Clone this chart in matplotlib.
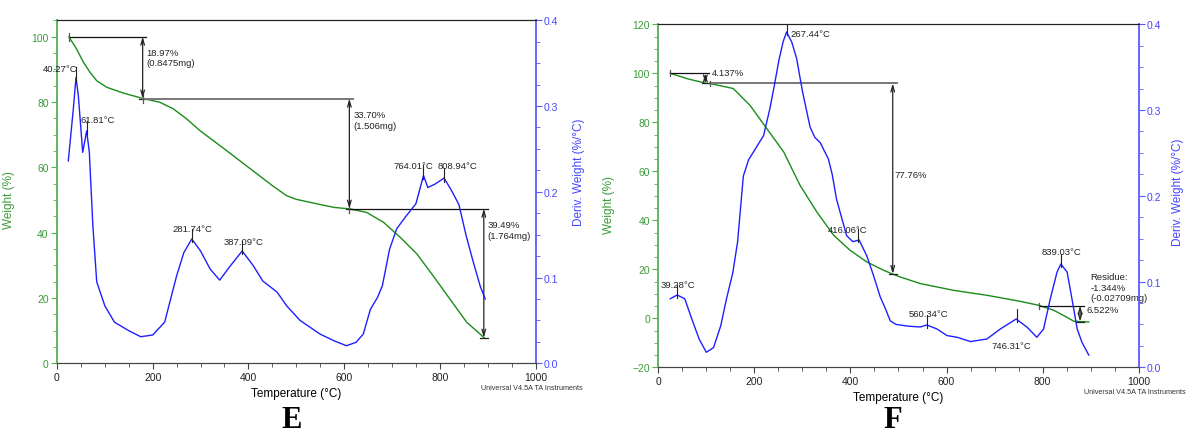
import matplotlib
matplotlib.use("Agg")
import matplotlib.pyplot as plt
from matplotlib.ticker import MultipleLocator

plt.rcParams['font.family'] = ['Liberation Sans', 'DejaVu Sans']

# ---------------- Panel E data ----------------
E_temp_w = [25, 41, 55, 69, 83, 104, 139, 179, 215, 243, 271, 299, 350, 400, 450, 480,
            500, 550, 580, 610, 647, 682, 717, 752, 786, 821, 856, 893]
E_weight = [99.9, 96.2, 92.2, 89.1, 86.5, 84.5, 82.7, 81.1, 79.9, 77.9, 74.8, 71.2, 65.6,
            60.0, 54.4, 51.3, 50.2, 48.6, 47.7, 47.3, 46.2, 43.2, 38.6, 33.5, 26.8, 19.7, 12.6, 7.8]
E_temp_d = [23.6, 34, 39.7, 44.6, 53.7, 62, 67.6, 69, 75, 83, 100, 120, 150, 175, 200, 225,
            250, 265, 281.7, 300, 320, 340, 360, 387, 410, 430, 460, 480, 508, 550, 580, 605,
            625, 640, 655, 670, 680, 695, 710, 730, 750, 766, 775, 790, 809, 825, 840, 855,
            870, 885, 895]
E_deriv = [0.236, 0.296, 0.3335, 0.312, 0.246, 0.271, 0.246, 0.229, 0.16, 0.095, 0.067, 0.048,
           0.038, 0.031, 0.033, 0.048, 0.102, 0.129, 0.145, 0.131, 0.110, 0.097, 0.112, 0.131,
           0.114, 0.096, 0.083, 0.067, 0.050, 0.034, 0.026, 0.0205, 0.0245, 0.034, 0.063, 0.077,
           0.0905, 0.133, 0.157, 0.172, 0.186, 0.219, 0.205, 0.209, 0.216, 0.201, 0.185, 0.149,
           0.118, 0.089, 0.075]
E_peak_T = [40.27, 61.81, 281.74, 387.09, 764.01, 808.94]
E_peak_D = [0.3335, 0.271, 0.145, 0.131, 0.219, 0.216]
E_peak_labels = ['40.27°C', '61.81°C', '281.74°C', '387.09°C', '764.01°C', '808.94°C']
E_steps = [(25, 179, 100.0, 81.03, '18.97%\n(0.8475mg)'),
           (179, 611, 81.03, 47.33, '33.70%\n(1.506mg)'),
           (611, 892, 47.33, 7.84, '39.49%\n(1.764mg)')]

# ---------------- Panel F data ----------------
F_temp_w = [25, 60, 100, 108, 156, 191, 226, 261, 295, 330, 365, 399, 434, 469, 486, 503,
            545, 615, 684, 754, 792, 823, 845, 865, 896]
F_weight = [100.0, 97.8, 95.9, 95.8, 93.8, 86.9, 77.4, 67.9, 54.3, 43.4, 33.9, 27.8, 23.0,
            19.6, 18.2, 16.9, 14.2, 11.4, 9.4, 6.9, 5.3, 3.3, 1.0, -1.2, -1.5]
F_temp_d = [25, 39.3, 55, 70, 85, 100, 115, 130, 142, 155, 165, 177, 188, 198, 210, 219, 232,
            242, 251, 260, 267, 278, 288, 300, 316, 326, 337, 354, 362, 371, 392, 405, 418,
            434, 448, 462, 473, 483, 495, 520, 545, 559, 580, 601, 622, 650, 684, 712, 745,
            768, 788, 802, 816, 830, 838, 851, 861, 872, 882, 896]
F_deriv = [0.080, 0.0843, 0.080, 0.056, 0.033, 0.0175, 0.023, 0.0485, 0.080, 0.110, 0.146,
           0.223, 0.242, 0.251, 0.262, 0.270, 0.301, 0.330, 0.358, 0.380, 0.391, 0.379, 0.360,
           0.322, 0.280, 0.268, 0.262, 0.243, 0.225, 0.196, 0.1535, 0.1465, 0.1485, 0.130,
           0.107, 0.082, 0.068, 0.054, 0.050, 0.048, 0.047, 0.0493, 0.0447, 0.037, 0.035,
           0.030, 0.033, 0.0447, 0.0563, 0.0466, 0.035, 0.0447, 0.080, 0.111, 0.1205, 0.111,
           0.080, 0.0447, 0.029, 0.0143]
F_peak_T = [39.28, 267.44, 416.06, 560.34, 746.31, 839.03]
F_peak_D = [0.0843, 0.391, 0.1496, 0.0493, 0.0563, 0.1205]
F_peak_labels = ['39.28°C', '267.44°C', '416.06°C', '560.34°C', '746.31°C', '839.03°C']
F_steps = [(25, 98, 100.0, 95.86, '4.137%'),
           (108, 488, 95.86, 18.10, '77.76%'),
           (792, 878, 5.18, -1.34, '6.522%')]
F_residue = 'Residue:\n-1.344%\n(-0.02709mg)'

GREEN = '#1a8c1a'
GREEN_T = '#3a9a3a'
BLUE = '#1f1fff'
BLUE_T = '#4545ff'
W, H = 1187, 435

fig = plt.figure(figsize=(W / 100, H / 100), dpi=100)


def make_axes(l, r, t, b, ylim, ymaj):
    ax = fig.add_axes([l / W, 1 - b / H, (r - l) / W, (b - t) / H])
    ax2 = ax.twinx()
    ax.set_xlim(0, 1000)
    ax.set_ylim(*ylim)
    ax2.set_ylim(0, 0.4)
    ax.xaxis.set_major_locator(MultipleLocator(200))
    ax.xaxis.set_minor_locator(MultipleLocator(50))
    ax.yaxis.set_major_locator(MultipleLocator(ymaj))
    ax.yaxis.set_minor_locator(MultipleLocator(5))
    ax2.yaxis.set_major_locator(MultipleLocator(0.1))
    ax2.yaxis.set_minor_locator(MultipleLocator(0.025))
    ax2.yaxis.set_major_formatter(matplotlib.ticker.FuncFormatter(lambda v, p: f'{v:.1f}'))
    for a in (ax, ax2):
        a.tick_params(which='both', direction='out', labelsize=7.5, pad=2)
        a.tick_params(which='major', length=4)
        a.tick_params(which='minor', length=3)
    ax.spines['left'].set_color('#55b055')
    ax.spines['left'].set_linewidth(1.3)
    ax2.spines['right'].set_color('#5a5aff')
    ax2.spines['right'].set_linewidth(1.3)
    ax2.spines['left'].set_visible(False)
    ax.spines['right'].set_visible(False)
    for a in (ax, ax2):
        a.spines['top'].set_color('#222222')
        a.spines['bottom'].set_color('#444444')
    ax.tick_params(axis='y', which='both', colors='#55b055', labelcolor=GREEN_T)
    ax2.tick_params(axis='y', which='both', colors='#5a5aff', labelcolor=BLUE_T)
    ax.tick_params(axis='x', which='both', colors='#444444', labelcolor='#222222')
    ax.set_xlabel('Temperature (°C)', fontsize=8.5, labelpad=4)
    ax.set_ylabel('Weight (%)', fontsize=8.5, color=GREEN_T)
    ax2.set_ylabel('Deriv. Weight (%/°C)', fontsize=8.5, color=BLUE_T)
    return ax, ax2


def draw_step(ax, x0, x1, y0, y1, gray):
    col = '#777777' if gray else '#111111'
    lw = 1.4 if gray else 0.9
    ax.plot([x0, x1 + 8], [y0, y0], color=col, lw=lw, zorder=3)
    ax.plot([x0, x0], [y0 - 1.2, y0 + 1.2], color='#555555', lw=0.9, zorder=3)
    ax.annotate('', xy=(x1, y1), xytext=(x1, y0),
                arrowprops=dict(arrowstyle='<->,head_length=0.45,head_width=0.13',
                                lw=0.9, color='#222222', shrinkA=0, shrinkB=0), zorder=4)
    ax.plot([x1 - 8, x1 + 8], [y1, y1], color='#222222', lw=0.9, zorder=3)


def peak_ticks(ax2, ts, ds):
    for t, d in zip(ts, ds):
        ax2.plot([t, t], [d - 0.004, d + 0.012], color='#222222', lw=0.8, zorder=5)


TXT = dict(fontsize=6.8, color='#222222')

# ---------------- Panel E ----------------
axE, axE2 = make_axes(57, 535.5, 21.3, 364.3, (0, 105), 20)
axE.plot(E_temp_w, E_weight, color=GREEN, lw=1.0, zorder=2)
axE2.plot(E_temp_d, E_deriv, color=BLUE, lw=1.0, zorder=2)
peak_ticks(axE2, E_peak_T, E_peak_D)
for i, (x0, x1, y0, y1, lab) in enumerate(E_steps):
    draw_step(axE, x0, x1, y0, y1, gray=(i == 1))
axE.text(187, 96.5, E_steps[0][4], va='top', ha='left', linespacing=1.2, **TXT)
axE.text(619, 77.5, E_steps[1][4], va='top', ha='left', linespacing=1.2, **TXT)
axE.text(900, 43.8, E_steps[2][4], va='top', ha='left', linespacing=1.2, **TXT)
E_lab_pos = [(6, 90.3), (84, 74.5), (283, 41.3), (389, 37.4), (744, 60.5), (838, 60.4)]
for (x, y), lab in zip(E_lab_pos, E_peak_labels):
    axE.text(x, y, lab, ha='center', va='center', zorder=6, **TXT)
axE.yaxis.set_label_coords(-0.088, 0.48)
axE2.yaxis.set_label_coords(1.078, 0.56)

# ---------------- Panel F ----------------
axF, axF2 = make_axes(658.3, 1138.7, 25.3, 368.3, (-20, 120), 20)
axF.plot(F_temp_w, F_weight, color=GREEN, lw=1.0, zorder=2)
axF2.plot(F_temp_d, F_deriv, color=BLUE, lw=1.0, zorder=2)
peak_ticks(axF2, F_peak_T, F_peak_D)
for i, (x0, x1, y0, y1, lab) in enumerate(F_steps):
    draw_step(axF, x0, x1, y0, y1, gray=(i == 1))
axF.text(112, 100.2, F_steps[0][4], va='center', ha='left', **TXT)
axF.text(492, 58.6, F_steps[1][4], va='center', ha='left', **TXT)
axF.text(891, 3.5, F_steps[2][4], va='center', ha='left', **TXT)
axF.text(900, 18.8, F_residue, va='top', ha='left', linespacing=1.2, **TXT)
F_lab_pos = [(41, 14.0), (317, 116.3), (394, 36.2), (562, 1.9), (735, -10.9), (840, 27.2)]
for (x, y), lab in zip(F_lab_pos, F_peak_labels):
    axF.text(x, y, lab, ha='center', va='center', zorder=6, **TXT)
axF.yaxis.set_label_coords(-0.09, 0.476)
axF2.yaxis.set_label_coords(1.069, 0.514)

# ---------------- Footers and panel letters ----------------
fig.text(481 / W, 1 - 389 / H, 'Universal V4.5A TA Instruments', fontsize=5.2,
         color='#333333', va='center', ha='left')
fig.text(1083.7 / W, 1 - 393 / H, 'Universal V4.5A TA Instruments', fontsize=5.2,
         color='#333333', va='center', ha='left')
fig.text(292 / W, 1 - 421 / H, 'E', fontsize=22, fontweight='bold',
         family='Liberation Serif', ha='center', va='center')
fig.text(893 / W, 1 - 421 / H, 'F', fontsize=22, fontweight='bold',
         family='Liberation Serif', ha='center', va='center')

fig.savefig('out.png', dpi=100)
